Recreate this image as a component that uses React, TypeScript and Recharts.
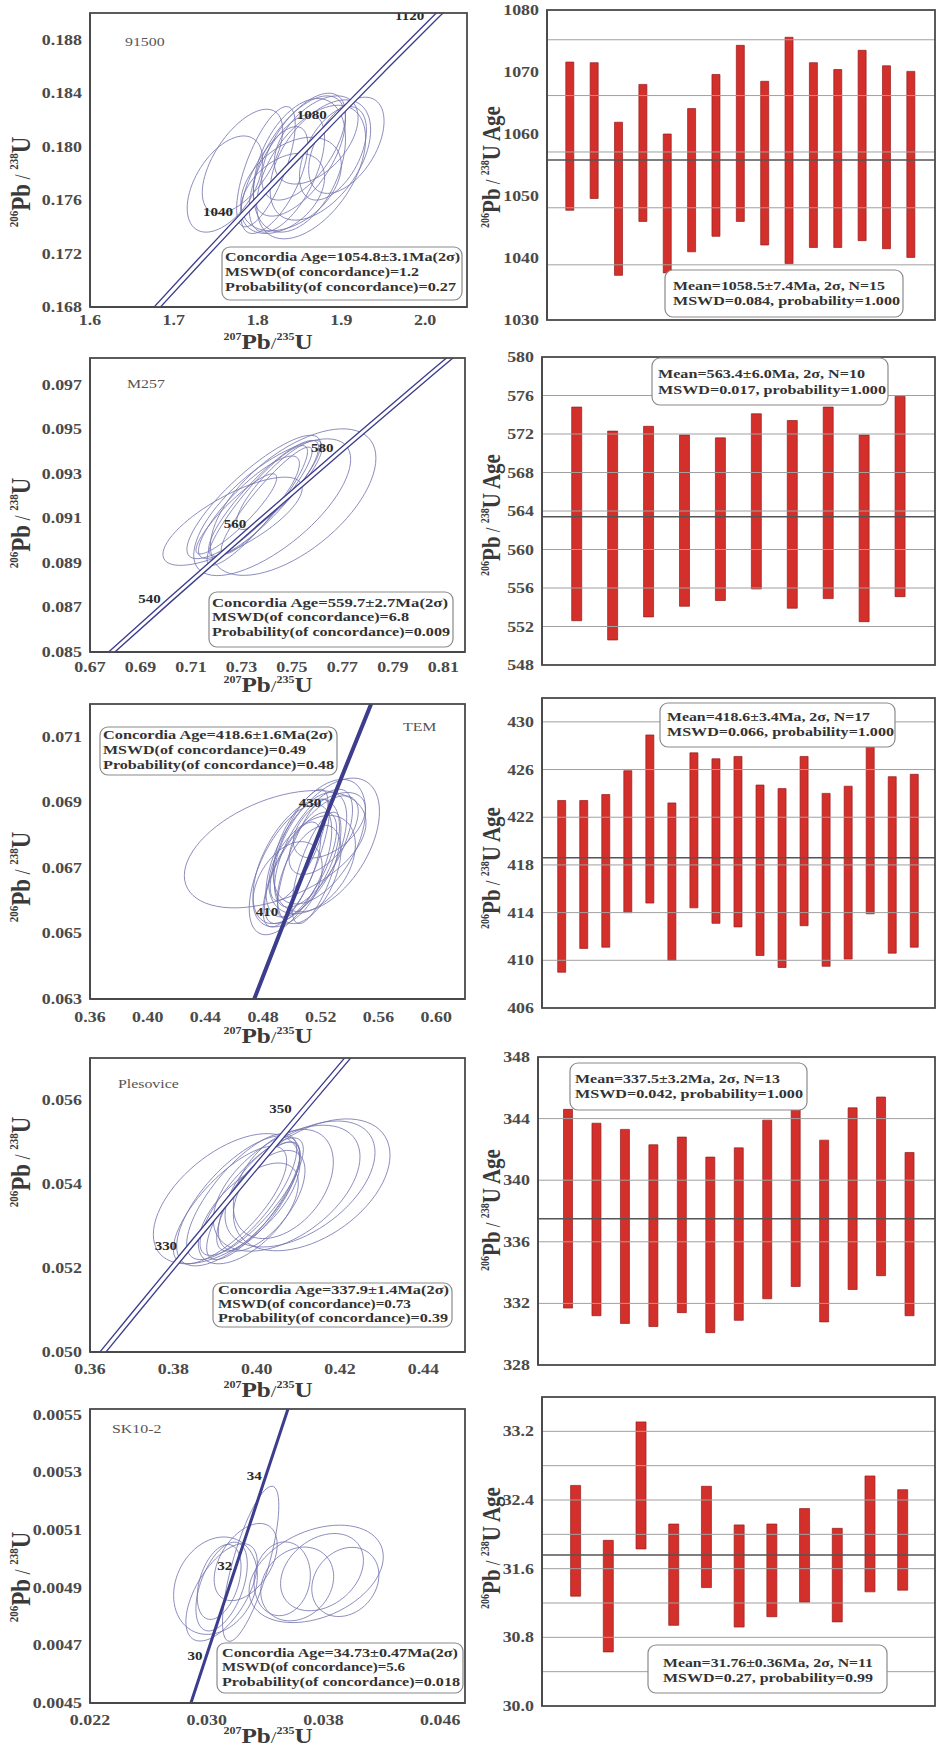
import React from 'react';
import { ScatterChart, Scatter, XAxis, YAxis, BarChart, Bar, ReferenceLine } from 'recharts';

const SERIF = '"Liberation Serif", "Times New Roman", "DejaVu Serif", serif';
const NAVY = '#3d3d8e';
const ELL = '#7272ae';
const FRAME = { stroke: '#4a4a4a', strokeWidth: 1.8 };

// decay constants per Ma, used to place the concordia curve
const L238 = 1.55125e-4;
const L235 = 9.8485e-4;

// ---------- 91500 ----------
const conc91500 = [1000, 1020, 1040, 1060, 1080, 1100, 1120, 1140];
const label91500 = [1040, 1080, 1120];
const ell91500 = [
  [1.761, 0.1772, 0.045, 0.0036, 0.5],
  [1.782, 0.1789, 0.048, 0.0039, 0.6],
  [1.85, 0.1786, 0.055, 0.005, 0.4],
  [1.906, 0.1801, 0.045, 0.0036, 0.5],
  [1.864, 0.1781, 0.065, 0.005, 0.5],
  [1.85, 0.1793, 0.055, 0.0045, 0.6],
  [1.835, 0.178, 0.045, 0.0044, 0.6],
  [1.82, 0.1775, 0.04, 0.004, 0.65],
  [1.87, 0.1805, 0.05, 0.0033, 0.5],
  [1.84, 0.1772, 0.06, 0.0035, 0.4],
  [1.81, 0.1785, 0.035, 0.0045, 0.7],
  [1.89, 0.1795, 0.04, 0.0035, 0.5],
  [1.855, 0.18, 0.05, 0.004, 0.6],
  [1.83, 0.1765, 0.05, 0.003, 0.4],
  [1.875, 0.179, 0.06, 0.0045, 0.5],
];
const xTicks91500 = [1.6, 1.7, 1.8, 1.9, 2.0];
const yTicks91500 = [0.168, 0.172, 0.176, 0.18, 0.184, 0.188];
const lo91500 = [1047.7, 1049.6, 1037.2, 1045.9, 1037.6, 1041.0, 1043.5, 1045.9, 1042.1, 1039.1, 1041.7, 1041.7, 1042.8, 1041.5, 1040.1];
const hi91500 = [1071.6, 1071.5, 1061.9, 1068.0, 1060.0, 1064.1, 1069.6, 1074.3, 1068.5, 1075.6, 1071.5, 1070.4, 1073.5, 1071.0, 1070.1];
const ageTicks91500 = [1030, 1040, 1050, 1060, 1070, 1080];
const grid91500 = [1038.9, 1048.1, 1057.1, 1066.2, 1075.2];
const mean91500 = 1055.8;

// ---------- M257 ----------
const concM257 = [520, 540, 560, 580, 600, 620];
const labelM257 = [540, 560, 580];
const ellM257 = [
  [0.7265, 0.09087, 0.0276, 0.00198, 0.75],
  [0.7505, 0.09173, 0.0328, 0.00329, 0.6],
  [0.7349, 0.09196, 0.0265, 0.00277, 0.85],
  [0.7422, 0.0915, 0.0311, 0.00307, 0.7],
  [0.7363, 0.09158, 0.0199, 0.00269, 0.9],
  [0.7388, 0.0919, 0.0218, 0.0026, 0.88],
  [0.74, 0.0918, 0.018, 0.0024, 0.92],
  [0.733, 0.0915, 0.02, 0.0023, 0.85],
  [0.745, 0.0925, 0.017, 0.002, 0.85],
  [0.728, 0.0912, 0.016, 0.0018, 0.9],
];
const xTicksM257 = [0.67, 0.69, 0.71, 0.73, 0.75, 0.77, 0.79, 0.81];
const yTicksM257 = [0.085, 0.087, 0.089, 0.091, 0.093, 0.095, 0.097];
const loM257 = [552.6, 550.6, 553.0, 554.1, 554.7, 555.9, 553.9, 554.9, 552.5, 555.1];
const hiM257 = [574.8, 572.3, 572.8, 571.9, 571.6, 574.1, 573.4, 574.8, 571.9, 575.9];
const ageTicksM257 = [548, 552, 556, 560, 564, 568, 572, 576, 580];
const gridM257 = [552, 556, 560, 564, 568, 572, 576];
const meanM257 = 563.4;

// ---------- TEM ----------
const concTEM = [390, 400, 410, 420, 430, 440, 450];
const labelTEM = [410, 430];
const ellTEM = [
  [0.4884, 0.06757, 0.063, 0.00179, 0.45],
  [0.499, 0.06695, 0.0286, 0.00199, 0.6],
  [0.5241, 0.0677, 0.0366, 0.00204, 0.5],
  [0.503, 0.0672, 0.03, 0.0019, 0.55],
  [0.51, 0.0674, 0.028, 0.0019, 0.6],
  [0.515, 0.0676, 0.027, 0.0018, 0.65],
  [0.506, 0.067, 0.025, 0.0017, 0.7],
  [0.512, 0.0668, 0.022, 0.0015, 0.5],
  [0.519, 0.0678, 0.032, 0.0019, 0.5],
  [0.5, 0.0668, 0.02, 0.0016, 0.7],
  [0.508, 0.0673, 0.018, 0.0018, 0.8],
  [0.522, 0.068, 0.024, 0.0012, 0.6],
  [0.497, 0.0665, 0.024, 0.0013, 0.4],
  [0.514, 0.0671, 0.03, 0.0015, 0.4],
  [0.505, 0.0677, 0.02, 0.0017, 0.75],
  [0.517, 0.067, 0.017, 0.0017, 0.7],
  [0.526, 0.0683, 0.025, 0.001, 0.5],
];
const xTicksTEM = [0.36, 0.4, 0.44, 0.48, 0.52, 0.56, 0.6];
const yTicksTEM = [0.063, 0.065, 0.067, 0.069, 0.071];
const loTEM = [409.0, 411.0, 411.1, 414.0, 414.8, 410.0, 414.4, 413.1, 412.8, 410.4, 409.4, 412.9, 409.5, 410.1, 413.9, 410.6, 411.1];
const hiTEM = [423.4, 423.4, 423.9, 425.9, 428.9, 423.2, 427.4, 426.9, 427.1, 424.7, 424.4, 427.1, 424.0, 424.6, 428.0, 425.4, 425.6];
const ageTicksTEM = [406, 410, 414, 418, 422, 426, 430];
const gridTEM = [410, 414, 418, 422, 426, 430];
const meanTEM = 418.6;

// ---------- Plesovice ----------
const concPles = [310, 320, 330, 340, 350, 360];
const labelPles = [330, 350];
const ellPles = [
  [0.3928, 0.05365, 0.0176, 0.00155, 0.55],
  [0.4132, 0.05398, 0.0188, 0.00157, 0.45],
  [0.4104, 0.054, 0.018, 0.0015, 0.5],
  [0.4072, 0.0539, 0.0176, 0.0015, 0.5],
  [0.3956, 0.0536, 0.0148, 0.00155, 0.7],
  [0.3964, 0.0537, 0.0132, 0.0015, 0.75],
  [0.3988, 0.0537, 0.0124, 0.0014, 0.8],
  [0.3992, 0.0536, 0.0112, 0.0014, 0.8],
  [0.4004, 0.0537, 0.01, 0.0013, 0.75],
  [0.4012, 0.0536, 0.0104, 0.0012, 0.6],
  [0.3936, 0.0535, 0.0136, 0.0014, 0.75],
  [0.4064, 0.054, 0.012, 0.0013, 0.4],
  [0.398, 0.0533, 0.012, 0.0012, 0.6],
];
const xTicksPles = [0.36, 0.38, 0.4, 0.42, 0.44];
const yTicksPles = [0.05, 0.052, 0.054, 0.056];
const loPles = [331.7, 331.2, 330.7, 330.5, 331.4, 330.1, 330.9, 332.3, 333.1, 330.8, 332.9, 333.8, 331.2];
const hiPles = [344.6, 343.7, 343.3, 342.3, 342.8, 341.5, 342.1, 343.9, 345.2, 342.6, 344.7, 345.4, 341.8];
const ageTicksPles = [328, 332, 336, 340, 344, 348];
const gridPles = [332, 336, 340, 344];
const meanPles = 337.5;

// ---------- SK10-2 ----------
const concSK = [28, 30, 32, 34, 36];
const labelSK = [30, 32, 34];
const ellSK = [
  [0.03301, 0.004983, 0.00193, 0.000269, 0.75],
  [0.0306, 0.004907, 0.00287, 0.000169, 0.2],
  [0.03102, 0.004884, 0.00245, 0.000169, 0.6],
  [0.03102, 0.004904, 0.00176, 0.000154, 0.5],
  [0.03267, 0.004989, 0.00216, 0.000134, 0.45],
  [0.03085, 0.00492, 0.0015, 0.00013, 0.4],
  [0.0375, 0.004948, 0.0046, 0.000169, 0.35],
  [0.0379, 0.004954, 0.00284, 0.000134, 0.3],
  [0.0362, 0.004913, 0.0025, 0.000128, 0.2],
  [0.03517, 0.004931, 0.00193, 0.000128, 0.1],
  [0.0395, 0.00492, 0.0023, 0.00012, 0.2],
];
const xTicksSK = [0.022, 0.03, 0.038, 0.046];
const yTicksSK = [0.0045, 0.0047, 0.0049, 0.0051, 0.0053, 0.0055];
const loSK = [31.28, 30.63, 31.83, 30.94, 31.38, 30.92, 31.04, 31.21, 30.98, 31.33, 31.35];
const hiSK = [32.57, 31.93, 33.31, 32.12, 32.56, 32.11, 32.12, 32.3, 32.07, 32.68, 32.52];
const ageTicksSK = [30.0, 30.8, 31.6, 32.4, 33.2];
const gridSK = [30.4, 30.8, 31.2, 31.6, 32.0, 32.4, 32.8, 33.2];
const meanSK = 31.76;

type Rect = { x0: number; y0: number; x1: number; y1: number };

const toConc = (ages: number[]) =>
  ages.map((t) => ({ x: Math.expm1(L235 * t), y: Math.expm1(L238 * t), age: t }));
const toEll = (rows: number[][]) =>
  rows.map(([x, y, ax, ay, rho]) => ({ x, y, ax, ay, rho }));

function STxt({ x, y, sx = 1, size, weight = 'bold', anchor = 'middle', fill = '#333', children }: any) {
  return (
    <g transform={`translate(${x} ${y}) scale(${sx} 1)`}>
      <text x={0} y={0} fontFamily={SERIF} fontSize={size} fontWeight={weight} textAnchor={anchor} fill={fill}>
        {children}
      </text>
    </g>
  );
}

const xTick = (dec: number) => (p: any) => (
  <STxt x={p.x} y={p.y + 10} sx={1.28} size={14} fill="#4a4a4a">
    {Number(p.payload.value).toFixed(dec)}
  </STxt>
);
const yTick = (dec: number) => (p: any) => (
  <STxt x={p.x} y={p.y + 5} sx={1.28} size={14} anchor="end" fill="#4a4a4a">
    {Number(p.payload.value).toFixed(dec)}
  </STxt>
);

const ellipseShape = (kx: number, ky: number) => (p: any) => {
  const { cx, cy, payload } = p;
  const { ax, ay, rho } = payload;
  const s = Math.sqrt(1 - rho * rho);
  let d = '';
  for (let i = 0; i <= 72; i++) {
    const t = (i / 72) * Math.PI * 2;
    const X = cx + ax * kx * Math.cos(t);
    const Y = cy - ay * ky * (rho * Math.cos(t) + s * Math.sin(t));
    d += (i ? 'L' : 'M') + X.toFixed(2) + ' ' + Y.toFixed(2);
  }
  return <path d={d + 'Z'} fill="none" stroke={ELL} strokeWidth={0.9} strokeOpacity={0.9} />;
};
const noShape = () => <g />;
const ageLabel = (dx: number) => (p: any) => (
  <STxt x={p.cx + dx} y={p.cy + 4} sx={1.25} size={12} anchor="end" fill="#2a2a2a">
    {p.payload.age}
  </STxt>
);

function ConcordiaPanel(p: any) {
  const r: Rect = p.r;
  const W = 470;
  const top = r.y0 - 15;
  const H = r.y1 - top + 50;
  const kx = (r.x1 - r.x0) / (p.xDom[1] - p.xDom[0]);
  const ky = (r.y1 - r.y0) / (p.yDom[1] - p.yDom[0]);
  const curve = toConc(p.ages);
  return (
    <div style={{ position: 'absolute', left: 0, top, width: W, height: H }}>
      <ScatterChart width={W} height={H} margin={{ top: 15, right: W - r.x1, bottom: 0, left: r.x0 - 60 }}>
        <XAxis type="number" dataKey="x" domain={p.xDom} ticks={p.xTicks} interval={0} allowDataOverflow
          height={50} tickLine={false} tickSize={6} tickMargin={p.tickGap} axisLine={FRAME} tick={xTick(p.xDec)} />
        <YAxis type="number" dataKey="y" domain={p.yDom} ticks={p.yTicks} interval={0} allowDataOverflow
          width={60} tickLine={false} axisLine={FRAME} tick={yTick(p.yDec)} />
        <Scatter data={toEll(p.ells)} shape={ellipseShape(kx, ky)} isAnimationActive={false} />
        <Scatter data={curve} line={{ stroke: NAVY, strokeWidth: p.outerW }} shape={noShape} isAnimationActive={false} />
        {p.innerW > 0 && (
          <Scatter data={curve} line={{ stroke: '#ffffff', strokeWidth: p.innerW }} shape={noShape} isAnimationActive={false} />
        )}
        <Scatter data={toConc(p.labels)} shape={ageLabel(p.labelDx)} isAnimationActive={false} />
      </ScatterChart>
    </div>
  );
}

function MeanPanel(p: any) {
  const r: Rect = p.r;
  const W = 471;
  const top = r.y0 - 12;
  const H = r.y1 - top + 8;
  const data = p.lo.map((lo: number, i: number) => ({ n: i + 1, r: [lo, p.hi[i]] }));
  return (
    <div style={{ position: 'absolute', left: 470, top, width: W, height: H }}>
      <BarChart width={W} height={H} data={data} barSize={p.barW}
        margin={{ top: 12, right: 941 - r.x1, bottom: 8, left: 0 }}>
        <XAxis dataKey="n" height={0} tick={false} tickLine={false} axisLine={FRAME}
          padding={{ left: p.pad[0], right: p.pad[1] }} />
        <YAxis type="number" domain={p.yDom} ticks={p.yTicks} interval={0} allowDataOverflow width={r.x0 - 470}
          tickLine={false} axisLine={FRAME} tick={yTick(p.yDec)} />
        {p.grid.map((g: number) => (
          <ReferenceLine key={g} y={g} stroke="#a0a0a0" strokeWidth={1} />
        ))}
        <Bar dataKey="r" fill="#d4302b" stroke="#951b1b" strokeWidth={0.7} isAnimationActive={false} />
        <ReferenceLine y={p.mean} stroke="#555555" strokeWidth={1.6} />
      </BarChart>
    </div>
  );
}

function PbTitle({ x, y, a, b, size, sup, suffix, vertical }: any) {
  const tr = vertical
    ? `translate(${x} ${y}) rotate(-90) scale(1 1.2)`
    : `translate(${x} ${y}) scale(1.2 1)`;
  const up = size * 0.42;
  return (
    <text transform={tr} textAnchor="middle" fontFamily={SERIF} fontWeight="bold" fill="#3a3a3a">
      <tspan fontSize={sup} dy={-up}>{a}</tspan>
      <tspan fontSize={size} dy={up}>Pb</tspan>
      <tspan fontSize={size * 0.8} fontWeight="normal">{vertical ? ' / ' : '/'}</tspan>
      <tspan fontSize={sup} dy={-up}>{b}</tspan>
      <tspan fontSize={size} dy={up}>U</tspan>
      {suffix ? <tspan fontSize={size}>{suffix}</tspan> : null}
    </text>
  );
}

function InfoBox({ x, y, w, h, lines }: any) {
  return (
    <g>
      <rect x={x} y={y} width={w} height={h} rx={8} ry={8} fill="#ffffff" stroke="#8a8a8a" strokeWidth={1.2} />
      {lines.map((l: any, i: number) => (
        <text key={i} x={l[1]} y={l[2]} textLength={l[3]} lengthAdjust="spacingAndGlyphs"
          fontFamily={SERIF} fontSize={12} fontWeight="bold" fill="#333">
          {l[0]}
        </text>
      ))}
    </g>
  );
}

const L1: Rect = { x0: 90, y0: 13, x1: 467, y1: 307 };
const L2: Rect = { x0: 90, y0: 358, x1: 465, y1: 652 };
const L3: Rect = { x0: 90, y0: 704, x1: 465, y1: 999 };
const L4: Rect = { x0: 90, y0: 1058, x1: 465, y1: 1352 };
const L5: Rect = { x0: 90, y0: 1409, x1: 465, y1: 1703 };
const R1: Rect = { x0: 547, y0: 10, x1: 935, y1: 320 };
const R2: Rect = { x0: 542, y0: 357, x1: 935, y1: 665 };
const R3: Rect = { x0: 542, y0: 698, x1: 935, y1: 1008 };
const R4: Rect = { x0: 538, y0: 1057, x1: 935, y1: 1365 };
const R5: Rect = { x0: 542, y0: 1397, x1: 935, y1: 1706 };
const frames = [L1, L2, L3, L4, L5, R1, R2, R3, R4, R5];

export default function App() {
  return (
    <div style={{ position: 'absolute', left: 0, top: 0, width: 941, height: 1751, background: '#fff', overflow: 'hidden' }}>
      <ConcordiaPanel r={L1} xDom={[1.6, 2.05]} yDom={[0.168, 0.19]} xTicks={xTicks91500} yTicks={yTicks91500}
        xDec={1} yDec={3} tickGap={2} ells={ell91500} ages={conc91500} labels={label91500} labelDx={-12}
        outerW={6} innerW={3.4} />
      <ConcordiaPanel r={L2} xDom={[0.67, 0.8186]} yDom={[0.085, 0.0982]} xTicks={xTicksM257} yTicks={yTicksM257}
        xDec={2} yDec={3} tickGap={4} ells={ellM257} ages={concM257} labels={labelM257} labelDx={-10}
        outerW={5.5} innerW={2.8} />
      <ConcordiaPanel r={L3} xDom={[0.36, 0.62]} yDom={[0.063, 0.072]} xTicks={xTicksTEM} yTicks={yTicksTEM}
        xDec={2} yDec={3} tickGap={7} ells={ellTEM} ages={concTEM} labels={labelTEM} labelDx={-10}
        outerW={4} innerW={0} />
      <ConcordiaPanel r={L4} xDom={[0.36, 0.45]} yDom={[0.05, 0.057]} xTicks={xTicksPles} yTicks={yTicksPles}
        xDec={2} yDec={3} tickGap={6} ells={ellPles} ages={concPles} labels={labelPles} labelDx={-13}
        outerW={6} innerW={3.4} />
      <ConcordiaPanel r={L5} xDom={[0.022, 0.0477]} yDom={[0.0045, 0.00552]} xTicks={xTicksSK} yTicks={yTicksSK}
        xDec={3} yDec={4} tickGap={6} ells={ellSK} ages={concSK} labels={labelSK} labelDx={-4}
        outerW={3} innerW={0} />

      <MeanPanel r={R1} yDom={[1030, 1080]} yTicks={ageTicks91500} yDec={0} lo={lo91500} hi={hi91500}
        grid={grid91500} mean={mean91500} barW={8} pad={[10.8, 11.8]} />
      <MeanPanel r={R2} yDom={[548, 580]} yTicks={ageTicksM257} yDec={0} lo={loM257} hi={hiM257}
        grid={gridM257} mean={meanM257} barW={10} pad={[16.7, 17]} />
      <MeanPanel r={R3} yDom={[406, 432]} yTicks={ageTicksTEM} yDec={0} lo={loTEM} hi={hiTEM}
        grid={gridTEM} mean={meanTEM} barW={8} pad={[8.7, 9.7]} />
      <MeanPanel r={R4} yDom={[328, 348]} yTicks={ageTicksPles} yDec={0} lo={loPles} hi={hiPles}
        grid={gridPles} mean={meanPles} barW={9} pad={[15.5, 11.5]} />
      <MeanPanel r={R5} yDom={[30, 33.6]} yTicks={ageTicksSK} yDec={1} lo={loSK} hi={hiSK}
        grid={gridSK} mean={meanSK} barW={10} pad={[17.6, 15.6]} />

      <svg width={941} height={1751} style={{ position: 'absolute', left: 0, top: 0, pointerEvents: 'none' }}>
        {/* plot frames */}
        {frames.map((f, i) => (
          <rect key={'f' + i} x={f.x0} y={f.y0} width={f.x1 - f.x0} height={f.y1 - f.y0}
            fill="none" stroke="#4a4a4a" strokeWidth={1.8} />
        ))}

        {/* sample names */}
        <STxt x={125} y={46} sx={1.22} size={13} weight="normal" anchor="start" fill="#555">91500</STxt>
        <STxt x={127} y={388} sx={1.22} size={13} weight="normal" anchor="start" fill="#555">M257</STxt>
        <STxt x={403} y={731} sx={1.22} size={13} weight="normal" anchor="start" fill="#555">TEM</STxt>
        <STxt x={118} y={1088} sx={1.22} size={13} weight="normal" anchor="start" fill="#555">Plesovice</STxt>
        <STxt x={112} y={1433} sx={1.22} size={13} weight="normal" anchor="start" fill="#555">SK10-2</STxt>

        {/* concordia boxes */}
        <InfoBox x={222} y={247} w={240} h={53} lines={[
          ['Concordia Age=1054.8±3.1Ma(2σ)', 225, 261, 235],
          ['MSWD(of concordance)=1.2', 225, 276, 194],
          ['Probability(of concordance)=0.27', 225, 291, 231],
        ]} />
        <InfoBox x={209} y={592} w={244} h={55} lines={[
          ['Concordia Age=559.7±2.7Ma(2σ)', 212, 607, 236],
          ['MSWD(of concordance)=6.8', 212, 621, 197],
          ['Probability(of concordance)=0.009', 212, 636, 238],
        ]} />
        <InfoBox x={100} y={727} w={237} h={48} lines={[
          ['Concordia Age=418.6±1.6Ma(2σ)', 103, 739, 230],
          ['MSWD(of concordance)=0.49', 103, 754, 203],
          ['Probability(of concordance)=0.48', 103, 769, 231],
        ]} />
        <InfoBox x={213} y={1283} w={239} h={44} lines={[
          ['Concordia Age=337.9±1.4Ma(2σ)', 218, 1294, 231],
          ['MSWD(of concordance)=0.73', 218, 1308, 193],
          ['Probability(of concordance)=0.39', 218, 1322, 230],
        ]} />
        <InfoBox x={217} y={1643} w={246} h={50} lines={[
          ['Concordia Age=34.73±0.47Ma(2σ)', 222, 1657, 236],
          ['MSWD(of concordance)=5.6', 222, 1671, 183],
          ['Probability(of concordance)=0.018', 222, 1686, 238],
        ]} />

        {/* weighted mean boxes */}
        <InfoBox x={665} y={270} w={238} h={47} lines={[
          ['Mean=1058.5±7.4Ma, 2σ, N=15', 673, 290, 212],
          ['MSWD=0.084, probability=1.000', 673, 305, 227],
        ]} />
        <InfoBox x={652} y={358} w={236} h={47} lines={[
          ['Mean=563.4±6.0Ma, 2σ, N=10', 658, 378, 207],
          ['MSWD=0.017, probability=1.000', 658, 394, 228],
        ]} />
        <InfoBox x={660} y={703} w={235} h={44} lines={[
          ['Mean=418.6±3.4Ma, 2σ, N=17', 667, 721, 203],
          ['MSWD=0.066, probability=1.000', 667, 736, 227],
        ]} />
        <InfoBox x={570} y={1063} w={237} h={47} lines={[
          ['Mean=337.5±3.2Ma, 2σ, N=13', 575, 1083, 205],
          ['MSWD=0.042, probability=1.000', 575, 1098, 228],
        ]} />
        <InfoBox x={648} y={1645} w={239} h={48} lines={[
          ['Mean=31.76±0.36Ma, 2σ, N=11', 663, 1667, 210],
          ['MSWD=0.27, probability=0.99', 663, 1682, 210],
        ]} />

        {/* axis titles */}
        {[182, 523, 877, 1162, 1577].map((y) => (
          <PbTitle key={'l' + y} vertical x={30} y={y} a="206" b="238" size={23} sup={11} />
        ))}
        {[167, 515, 868, 1210, 1548].map((y) => (
          <PbTitle key={'r' + y} vertical x={500} y={y} a="206" b="238" size={21} sup={10} suffix=" Age" />
        ))}
        {[349, 692, 1043, 1397, 1743].map((y) => (
          <PbTitle key={'x' + y} x={268} y={y} a="207" b="235" size={21} sup={10} />
        ))}
      </svg>
    </div>
  );
}
